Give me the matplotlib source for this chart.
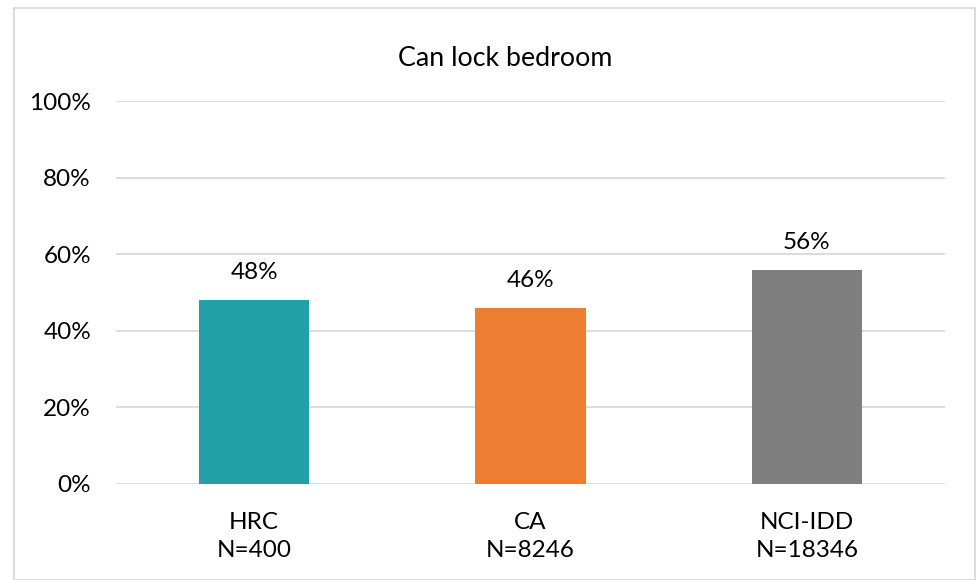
import matplotlib
matplotlib.use("Agg")
import matplotlib.pyplot as plt
from matplotlib.ticker import PercentFormatter
from matplotlib.patches import Rectangle

categories = ["HRC\nN=400", "CA\nN=8246", "NCI-IDD\nN=18346"]
values = [48, 46, 56]
colors = ["#239FA8", "#ED7D31", "#7F7F7F"]
yticks = [0, 20, 40, 60, 80, 100]
title = "Can lock bedroom"

plt.rcParams['font.family'] = ['Lato', 'DejaVu Sans']

W, H = 979, 580
fig = plt.figure(figsize=(W/100, H/100), dpi=100)
fig.patch.set_facecolor("white")
fig.add_artist(Rectangle((14/W, 0), (975-14)/W, (H-8)/H, transform=fig.transFigure,
                         fill=False, edgecolor="#D9D9D9", linewidth=1.3))

ax = fig.add_axes([116/W, 1-484/H, (945-116)/W, (484-101)/H])
x = list(range(len(categories)))
bars = ax.bar(x, values, width=0.4, color=colors, zorder=3)
ax.set_xlim(-0.5, len(categories)-0.5)
ax.set_ylim(0, 100)
ax.set_yticks(yticks)
ax.yaxis.set_major_formatter(PercentFormatter(decimals=0))
ax.grid(axis="y", color="#D9D9D9", linewidth=1.3, zorder=0)
for s in ax.spines.values():
    s.set_visible(False)
ax.tick_params(axis="both", length=0, labelsize=17.5, colors="black")
ax.tick_params(axis="y", pad=18)
ax.tick_params(axis="x", pad=20)
ax.set_xticks(x)
ax.set_xticklabels(categories, linespacing=1.45)
for b, v in zip(bars, values):
    ax.annotate(f"{v}%", (b.get_x()+b.get_width()/2, v), xytext=(0, 17),
                textcoords="offset pixels", ha="center", va="bottom", fontsize=17.5)
fig.text(505/W, 1-58/H, title, ha="center", va="center", fontsize=19.3)
fig.savefig("out.png", dpi=100)
